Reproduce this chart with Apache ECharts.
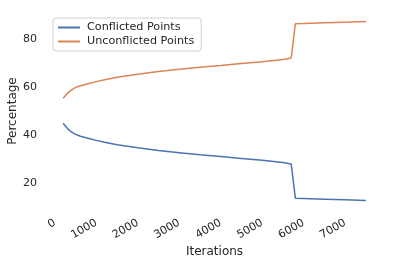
<!DOCTYPE html>
<html>
<head>
<meta charset="utf-8">
<script src="https://cdn.jsdelivr.net/npm/echarts@6/dist/echarts.min.js"></script>
<style>
html,body{margin:0;padding:0;background:#fff;}
#chart{width:395px;height:265px;}
</style>
</head>
<body>
<div id="chart"></div>
<script>
var iterations = [200, 300, 400, 500, 600, 800, 1000, 1200, 1500, 2000, 2500, 3000, 3500, 4000, 4500, 5000, 5500, 5700, 5800, 6000, 6500, 7000, 7500];
var conflicted = [44.9, 42.8, 41.3, 40.3, 39.6, 38.7, 37.8, 37.0, 36.0, 34.7, 33.6, 32.7, 31.8, 31.1, 30.3, 29.5, 28.6, 28.0, 13.8, 13.7, 13.4, 13.1, 12.8];
var unconflicted = [55.3, 57.3, 58.7, 59.8, 60.4, 61.3, 62.2, 63.0, 64.0, 65.3, 66.4, 67.3, 68.2, 68.9, 69.7, 70.5, 71.4, 72.0, 86.2, 86.3, 86.6, 86.9, 87.2];
var xTicks = [0, 1000, 2000, 3000, 4000, 5000, 6000, 7000];
var yTicks = [20, 40, 60, 80];
var seriesNames = ['Conflicted Points', 'Unconflicted Points'];

function pairs(xs, ys) { return xs.map(function (x, i) { return [x, ys[i]]; }); }

var font = 'DejaVu Sans';
var textColor = '#262626';
var chart = echarts.init(document.getElementById('chart'), null, { renderer: 'canvas' });
chart.setOption({
  animation: false,
  backgroundColor: '#ffffff',
  textStyle: { fontFamily: font },
  grid: { left: 48, right: 14, top: 13, bottom: 56, containLabel: false, outerBoundsMode: 'none' },
  legend: {
    orient: 'vertical', left: 53, top: 18,
    data: seriesNames,
    icon: 'rect',
    itemWidth: 22, itemHeight: 2, itemGap: 3,
    padding: [4, 7, 4, 5],
    borderColor: '#d0d0d0', borderWidth: 1, borderRadius: 3,
    backgroundColor: 'rgba(255,255,255,0.8)',
    textStyle: { fontFamily: font, fontSize: 11.2, color: textColor, padding: [0, 0, 0, 2] }
  },
  xAxis: {
    type: 'value', min: -165, max: 7865,
    name: 'Iterations', nameLocation: 'middle', nameGap: 37, nameMoveOverlap: false,
    nameTextStyle: { fontFamily: font, fontSize: 12, color: textColor },
    axisLine: { show: false }, axisTick: { show: false }, splitLine: { show: false },
    axisLabel: { customValues: xTicks, rotate: 30, margin: 13, fontFamily: font, fontSize: 11, color: textColor,
      formatter: function (v) { return String(v); } }
  },
  yAxis: {
    type: 'value', min: 9.3, max: 90.7,
    name: 'Percentage', nameLocation: 'middle', nameGap: 29, nameRotate: 90, nameMoveOverlap: false,
    nameTextStyle: { fontFamily: font, fontSize: 12, color: textColor },
    axisLine: { show: false }, axisTick: { show: false }, splitLine: { show: false },
    axisLabel: { customValues: yTicks, margin: 11, fontFamily: font, fontSize: 11, color: textColor }
  },
  series: [
    { name: seriesNames[0], type: 'line', data: pairs(iterations, conflicted), showSymbol: false, symbol: 'none',
      lineStyle: { color: '#4c72b0', width: 1.5 }, itemStyle: { color: '#4c72b0' } },
    { name: seriesNames[1], type: 'line', data: pairs(iterations, unconflicted), showSymbol: false, symbol: 'none',
      lineStyle: { color: '#dd8452', width: 1.5 }, itemStyle: { color: '#dd8452' } }
  ]
});
</script>
</body>
</html>
